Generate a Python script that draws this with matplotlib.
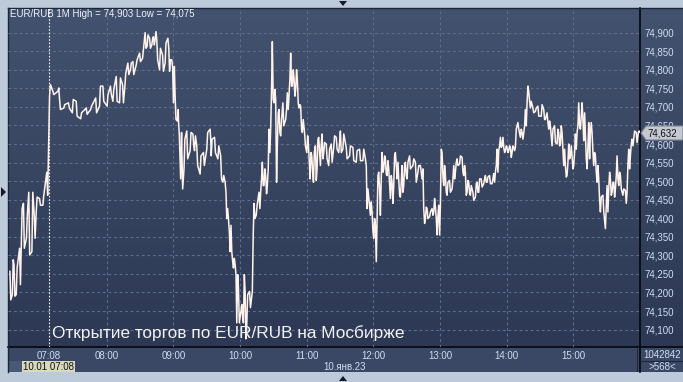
import matplotlib.pyplot as plt
import numpy as np
from matplotlib.colors import LinearSegmentedColormap
from matplotlib.patches import Rectangle, Polygon

plt.rcParams['font.family'] = ['Liberation Sans', 'DejaVu Sans']

# minutes counted from 07:08 on 10.01 (negative = end of the 09.01 session)
minute = [
    -34.7, -32.5, -31, -29, -26, -24.5, -22.5, -19.8, -17.7, -14.9, -12.8, -11, -8, -5, -1.5,
    1, 4, 8.5, 10, 13.8, 18, 21.5, 25, 29, 34, 38, 42.5, 46, 49,
    52.8, 55.8, 58, 61, 64, 66.7, 68.8, 71.5, 73.8, 76, 79, 82, 84.7, 87, 88.8, 91, 93, 94.5,
    96, 97.5, 100, 102.7, 105, 107.5, 109, 111, 112.5, 114, 116, 117, 119, 120, 122, 124.5,
    127.5, 130, 131.5, 133.5, 136.5, 139.5, 142.5, 145.5,
    146.5, 149.5, 152.5, 155, 157, 159, 160.5, 162, 163.5, 165, 166.5, 168, 169.5, 171, 172.5,
    174, 175.5, 177, 178.5, 181, 183.5, 185, 187, 189.5, 191, 192.5, 194, 195.5, 197, 198.5,
    200, 201.5, 203, 204.5, 206, 207.5, 209, 211, 213.5, 215, 216.5, 218, 219.5, 221, 222.5,
    224, 225.5, 227, 228.5, 230.5, 232.5, 234, 235.5, 237, 238.5,
    240.25, 241.75, 243.25, 244.75, 246.25, 247.75, 250, 252.25, 254.5, 256.75, 259, 261.25,
    262.75, 265, 268, 271, 274, 277, 280, 283, 285.25, 286.75, 288.25, 289.75, 291.25, 292.75,
    294.25, 295.75, 297.25, 298.75, 300.25, 301.75, 303.25, 304.75, 306.25, 307.75, 309.25,
    310.75, 312.25, 313.75, 315.25, 316.75, 318.25, 319.75, 321.25, 322.75, 325, 328, 330.25, 332.5,
    334.75, 336.25, 337.75, 339.25, 340.75, 343, 345.25, 346.75, 348.25, 349.75, 351.25, 352.75,
    354.25, 355.75, 357.25, 358.75, 361, 363.25, 364.75, 366.25, 367.75, 370, 372.25, 373.75,
    375.25, 376.75, 378.25, 379.75, 382, 384.25, 385.75, 387.25, 389.5, 391.75, 393.25, 394.75,
    397, 399.25, 400.75, 402.25, 403.75, 405.25, 406.75, 408.25, 409.75, 411.25, 412.75, 414.25,
    415.75, 417.25, 418.75, 420.25, 422.5, 424.75, 426.25, 427.75,
    429.25, 430.75, 432.25, 433.75, 436, 438.25, 440.5, 443.5, 445.75, 447.25, 448.75, 450.25,
    451.75, 453.25, 455.5, 457.75, 459.25, 460.75, 462.25, 463.75, 465.25, 466.75, 468.25, 469.75,
    471.25, 472.75, 474.25, 475.75, 477.25, 478.75, 480.25, 481.75, 483.25, 484.75, 486.25, 487.75,
    489.25, 490.75, 492.25, 493.75, 495.25, 496.75, 499, 501.25, 502.75, 504.25, 505.75, 507.25,
    508.75, 510.25, 511.75, 513.25, 514.75, 517, 519.25, 520.75, 522.25, 523.75, 525.25, 526.75,
    529, 531,
]
high = [
    74.257, 74.288, 74.275, 74.266, 74.319, 74.426, 74.440, 74.408, 74.470, 74.470, 74.408, 74.457, 74.453, 74.462, 74.524,
    74.760, 74.742, 74.751, 74.720, 74.706, 74.711, 74.720, 74.715, 74.684, 74.697, 74.702, 74.724, 74.756, 74.756,
    74.733, 74.756, 74.747, 74.782, 74.778, 74.760, 74.791, 74.818, 74.818, 74.822, 74.827, 74.845, 74.854, 74.900,
    74.894, 74.885, 74.885, 74.889, 74.903, 74.881, 74.858, 74.840, 74.872, 74.885, 74.827, 74.827, 74.809, 74.729,
    74.693, 74.666, 74.631, 74.595, 74.613, 74.635, 74.631, 74.627, 74.622, 74.595, 74.568, 74.577, 74.631, 74.640,
    74.613, 74.618, 74.595, 74.568, 74.515, 74.497, 74.426, 74.399, 74.381, 74.310, 74.292, 74.275, 74.248, 74.212,
    74.150, 74.168, 74.248, 74.203, 74.194, 74.203, 74.355, 74.440, 74.435, 74.470, 74.506, 74.551, 74.533, 74.515,
    74.533, 74.640, 74.747, 74.876, 74.747, 74.720, 74.684, 74.693, 74.666, 74.711, 74.693, 74.738, 74.774, 74.845,
    74.800, 74.778, 74.800, 74.774, 74.706, 74.702, 74.666, 74.631, 74.622, 74.595, 74.577, 74.568, 74.577,
    74.595, 74.613, 74.618, 74.600, 74.627, 74.604, 74.600, 74.586, 74.600, 74.622, 74.618, 74.604, 74.635, 74.627,
    74.591, 74.595, 74.591, 74.582, 74.586, 74.586, 74.560, 74.479, 74.457, 74.444, 74.417, 74.399, 74.381, 74.515,
    74.524, 74.511, 74.577, 74.568, 74.560, 74.555, 74.533, 74.515, 74.497, 74.568, 74.577, 74.551, 74.506, 74.497,
    74.542, 74.542, 74.551, 74.551, 74.568, 74.560, 74.551, 74.542,
    74.542, 74.533, 74.426, 74.430, 74.426, 74.417, 74.426, 74.453, 74.430, 74.408, 74.435, 74.586, 74.577, 74.542,
    74.515, 74.497, 74.502, 74.506, 74.542, 74.551, 74.560, 74.568, 74.564, 74.542, 74.524, 74.502, 74.497, 74.488,
    74.470, 74.493, 74.497, 74.506, 74.506, 74.506, 74.515, 74.511, 74.515, 74.506, 74.520, 74.542, 74.586, 74.595,
    74.618, 74.618, 74.591, 74.595, 74.591, 74.595, 74.591, 74.595, 74.591, 74.640, 74.658, 74.640, 74.631, 74.649,
    74.693, 74.756, 74.742, 74.715, 74.697, 74.697, 74.702, 74.706, 74.693, 74.675, 74.684, 74.662, 74.649, 74.640,
    74.649, 74.640, 74.631, 74.649, 74.631, 74.586, 74.542, 74.551, 74.600, 74.595, 74.568, 74.577, 74.627, 74.649,
    74.711, 74.675, 74.711, 74.684, 74.622, 74.595, 74.658, 74.658, 74.631, 74.577, 74.568, 74.542, 74.506, 74.457,
    74.462, 74.435, 74.488, 74.524, 74.506, 74.497, 74.497, 74.515, 74.568, 74.524, 74.515, 74.479, 74.475, 74.546,
    74.586, 74.600, 74.613, 74.635, 74.631, 74.635,
]
low = [
    74.180, 74.194, 74.190, 74.194, 74.221, 74.319, 74.319, 74.346, 74.301, 74.310, 74.346, 74.417, 74.435, 74.435, 74.462,
    74.729, 74.733, 74.742, 74.693, 74.697, 74.697, 74.684, 74.675, 74.668, 74.680, 74.693, 74.684, 74.702, 74.715,
    74.702, 74.733, 74.715, 74.715, 74.711, 74.711, 74.756, 74.787, 74.800, 74.787, 74.813, 74.822, 74.831, 74.858,
    74.863, 74.858, 74.867, 74.867, 74.881, 74.827, 74.800, 74.796, 74.818, 74.858, 74.796, 74.805, 74.711, 74.666,
    74.662, 74.622, 74.506, 74.479, 74.533, 74.560, 74.582, 74.595, 74.582, 74.542, 74.519, 74.542, 74.586, 74.595,
    74.568, 74.577, 74.560, 74.506, 74.497, 74.470, 74.399, 74.364, 74.310, 74.283, 74.266, 74.248, 74.118, 74.118,
    74.132, 74.132, 74.118, 74.075, 74.114, 74.159, 74.203, 74.399, 74.408, 74.426, 74.470, 74.488, 74.488, 74.466,
    74.488, 74.577, 74.640, 74.720, 74.711, 74.497, 74.595, 74.631, 74.622, 74.649, 74.666, 74.693, 74.729, 74.756,
    74.756, 74.729, 74.747, 74.711, 74.697, 74.640, 74.631, 74.595, 74.577, 74.551, 74.506, 74.524, 74.497,
    74.502, 74.533, 74.577, 74.542, 74.560, 74.577, 74.560, 74.542, 74.551, 74.591, 74.586, 74.577, 74.577, 74.586,
    74.560, 74.568, 74.555, 74.551, 74.555, 74.555, 74.542, 74.426, 74.430, 74.408, 74.364, 74.346, 74.283, 74.399,
    74.479, 74.408, 74.524, 74.533, 74.519, 74.515, 74.488, 74.453, 74.440, 74.488, 74.542, 74.506, 74.462, 74.457,
    74.470, 74.488, 74.515, 74.506, 74.533, 74.542, 74.497, 74.524,
    74.524, 74.506, 74.386, 74.399, 74.399, 74.404, 74.408, 74.417, 74.399, 74.355, 74.355, 74.435, 74.515, 74.488,
    74.470, 74.462, 74.470, 74.479, 74.506, 74.524, 74.542, 74.546, 74.524, 74.515, 74.462, 74.470, 74.466, 74.462,
    74.448, 74.457, 74.470, 74.470, 74.484, 74.493, 74.497, 74.497, 74.493, 74.493, 74.497, 74.524, 74.524, 74.582,
    74.591, 74.595, 74.577, 74.582, 74.577, 74.582, 74.564, 74.577, 74.582, 74.591, 74.640, 74.618, 74.613, 74.631,
    74.649, 74.711, 74.715, 74.697, 74.684, 74.688, 74.675, 74.675, 74.666, 74.666, 74.658, 74.640, 74.622, 74.595,
    74.604, 74.600, 74.595, 74.600, 74.582, 74.542, 74.511, 74.515, 74.560, 74.568, 74.533, 74.542, 74.586, 74.631,
    74.649, 74.640, 74.666, 74.609, 74.560, 74.533, 74.560, 74.631, 74.577, 74.542, 74.524, 74.497, 74.448, 74.417,
    74.417, 74.372, 74.417, 74.479, 74.462, 74.470, 74.457, 74.479, 74.506, 74.488, 74.479, 74.462, 74.440, 74.470,
    74.533, 74.568, 74.595, 74.613, 74.604, 74.632,
]
last_minute = 532
last_price = 74.632
day_high = 74.903
day_low = 74.075

hour_minutes = [0, 52, 112, 172, 232, 292, 352, 412, 472]
hour_labels = ['07:08', '08:00', '09:00', '10:00', '11:00', '12:00', '13:00', '14:00', '15:00']
price_levels = [74.10, 74.15, 74.20, 74.25, 74.30, 74.35, 74.40, 74.45, 74.50,
                74.55, 74.60, 74.65, 74.70, 74.75, 74.80, 74.85, 74.90]

W, H = 683, 382
def fx(px):
    return px / W
def fy(py):
    return 1 - py / H

def ru(v):
    return f"{v:.3f}".replace('.', ',')

fig = plt.figure(figsize=(W / 100, H / 100), dpi=100)
fig.patch.set_facecolor('#bccad9')

# dark gradient panel (chart + right scale)
ax_bg = fig.add_axes([fx(8), fy(347), (W - 8) / W, 339 / H])
grad = LinearSegmentedColormap.from_list('bg', ['#43526e', '#2c3854'])
ax_bg.imshow(np.linspace(0, 1, 256).reshape(-1, 1), cmap=grad, aspect='auto', extent=[0, 1, 0, 1])
ax_bg.axis('off')

# bottom time panel
fig.patches.append(Rectangle((fx(8), fy(372)), (W - 8) / W, 25 / H, transform=fig.transFigure,
                             facecolor='#3a4865', edgecolor='none', zorder=0))
fig.patches.append(Rectangle((fx(8), fy(372)), 14 / W, 11 / H, transform=fig.transFigure,
                             facecolor='#4a5877', edgecolor='none', zorder=0))

ax = fig.add_axes([fx(8), fy(347), 632 / W, 339 / H], zorder=2)
ax.patch.set_alpha(0)
ax.set_xlim(-36.8, 532)
ax.set_ylim(74.053, 74.9665)
for s in ax.spines.values():
    s.set_visible(False)

for p in price_levels:
    ax.axhline(p, color='#5d6d8b', lw=0.8, ls=(0, (2.5, 2.5)), zorder=1)
for m in hour_minutes[1:]:
    ax.axvline(m, color='#5d6d8b', lw=0.8, ls=(0, (2.5, 2.5)), zorder=1)
ax.axvline(hour_minutes[0], color='#f0f0f0', lw=0.8, ls=(0, (1.5, 1.5)), zorder=1)

# zigzag through each reading's high and low
xs, ys = [], []
for i, (t, h, l) in enumerate(zip(minute, high, low)):
    a, b = (h, l) if i % 2 == 0 else (l, h)
    xs += [t - 0.4, t + 0.4]
    ys += [a, b]
xs.append(last_minute)
ys.append(last_price)
ax.plot(xs, ys, color='#fff3ec', lw=1.1, zorder=3)

ax.yaxis.tick_right()
ax.set_yticks(price_levels)
ax.set_yticklabels([ru(p) for p in price_levels])
ax.tick_params(axis='y', length=0, pad=3, labelsize=7, labelcolor='#cfdcf2')
ax.set_xticks(hour_minutes)
ax.set_xticklabels(hour_labels)
ax.tick_params(axis='x', length=0, pad=3, labelsize=7, labelcolor='#cfdcf2')

# frame lines
fig.add_artist(plt.Line2D([fx(8), fx(W)], [fy(347), fy(347)], color='#05070c', lw=1.2))
fig.add_artist(plt.Line2D([fx(640), fx(640)], [fy(8), fy(372)], color='#05070c', lw=1.2))
fig.add_artist(plt.Line2D([fx(8), fx(8)], [fy(8), fy(372)], color='#1c2638', lw=1))
fig.add_artist(plt.Line2D([fx(8), fx(W)], [fy(8), fy(8)], color='#1c2638', lw=1))
fig.add_artist(plt.Line2D([fx(640), fx(W)], [fy(360.5), fy(360.5)], color='#1c2638', lw=0.8))
fig.add_artist(plt.Line2D([fx(636.5), fx(636.5)], [fy(349), fy(371)], color='#1f2738', lw=0.8))

# header and caption
fig.text(fx(10), fy(14), f"EUR/RUB 1M High = {ru(day_high)} Low = {ru(day_low)}",
         color='#eef2fa', fontsize=7, va='center', ha='left')
fig.text(fx(52), fy(333), "Открытие торгов по EUR/RUB на Мосбирже",
         color='#f2f2f2', fontsize=12.4, va='center', ha='left')

# last price marker
fig.patches.append(Polygon([(fx(641), fy(133)), (fx(646), fy(126)), (fx(W), fy(126)),
                            (fx(W), fy(140)), (fx(646), fy(140))], closed=True,
                           transform=fig.transFigure, facecolor='#c4c8d0',
                           edgecolor='#7d8494', lw=0.8, zorder=5))
fig.text(fx(647), fy(133), ru(last_price), color='#111111', fontsize=7, va='center', ha='left', zorder=6)

# bottom info
fig.patches.append(Rectangle((fx(22), fy(372)), 53 / W, 11 / H, transform=fig.transFigure,
                             facecolor='#d9d9bd', edgecolor='none', zorder=5))
fig.text(fx(48.5), fy(366.5), "10.01 07:08", color='#111111', fontsize=7, va='center', ha='center', zorder=6)
fig.text(fx(345), fy(366.5), "10.янв.23", color='#cfdcf2', fontsize=7, va='center', ha='center')
fig.text(fx(662), fy(354.5), "1042842", color='#cfdcf2', fontsize=7, va='center', ha='center')
fig.text(fx(662), fy(366.5), ">568<", color='#cfdcf2', fontsize=7, va='center', ha='center')

# small arrows on the outer frame
for pts in ([(339, 1), (347, 1), (343, 6)], [(339, 381), (347, 381), (343, 376)],
            [(1, 187), (1, 197), (6, 192)]):
    fig.patches.append(Polygon([(fx(x), fy(y)) for x, y in pts], closed=True,
                               transform=fig.transFigure, facecolor='#141a26', edgecolor='none'))

fig.savefig('out.png', dpi=100)
